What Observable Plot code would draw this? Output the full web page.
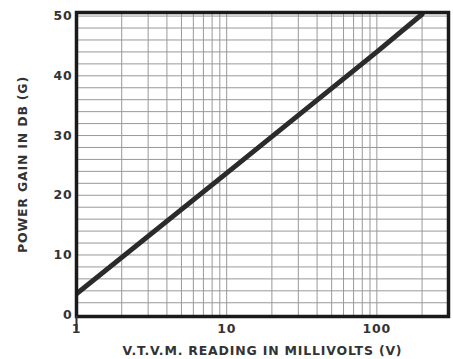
<!DOCTYPE html>
<html><head><meta charset="utf-8">
<script src="https://cdn.jsdelivr.net/npm/d3@7"></script>
<script src="https://cdn.jsdelivr.net/npm/@observablehq/plot@0.6"></script>
<style>
body{margin:0;background:#fff;}
svg{font-family:"DejaVu Sans",sans-serif;}
</style></head><body>
<div id="chart"></div>
<script>
const millivolts = [1, 10, 100, 200];
const gainDb = [3.5, 23.7, 44, 50.3];
const xTicks = [1, 10, 100];
const yTicks = [0, 10, 20, 30, 40, 50];
const xGrid = [2,3,4,5,6,7,8,9,10,20,30,40,50,60,70,80,90,100,200];
const yGrid = [2,4,6,8,10,12,14,16,18,20,22,24,26,28,30,32,34,36,38,40,42,44,46,48,50];

const data = millivolts.map((v, i) => ({v, g: gainDb[i]}));

const chart = Plot.plot({
  width: 453, height: 359,
  marginLeft: 76, marginRight: 5, marginTop: 12, marginBottom: 43,
  style: {background: "#fff", color: "#222"},
  x: {type: "log", domain: [1, 300]},
  y: {domain: [-0.3, 50.6]},
  marks: [
    Plot.ruleX(xGrid, {stroke: "#999", strokeWidth: 1}),
    Plot.ruleY(yGrid, {stroke: "#999", strokeWidth: 1}),
    Plot.line(data, {x: "v", y: "g", stroke: "#2b2b2b", strokeWidth: 5, clip: true}),
    Plot.frame({stroke: "#1a1a1a", strokeWidth: 3.5}),
    Plot.axisX([1], {tickSize: 14, strokeWidth: 2, stroke: "#333", text: null, label: null}),
    Plot.axisX(xTicks, {tickSize: 0, tickPadding: 8, fontSize: 14, fontWeight: "bold", fill: "#333", tickFormat: d => String(d),
      label: "V.T.V.M. READING IN MILLIVOLTS (V)", labelAnchor: "center", labelArrow: "none", labelOffset: 38}),
    Plot.axisY(yTicks, {tickSize: 0, tickPadding: 4, fontSize: 14, fontWeight: "bold", fill: "#333",
      label: "POWER GAIN IN DB (G)", labelAnchor: "center", labelArrow: "none", labelOffset: 58})
  ]
});
d3.select(chart).selectAll("[aria-label$='axis label'] text, [aria-label$='label'] text").attr("font-size", 12.5).attr("font-weight", "bold").attr("letter-spacing", "0.8px").attr("fill", "#333");
document.getElementById("chart").append(chart);
</script>
</body></html>
